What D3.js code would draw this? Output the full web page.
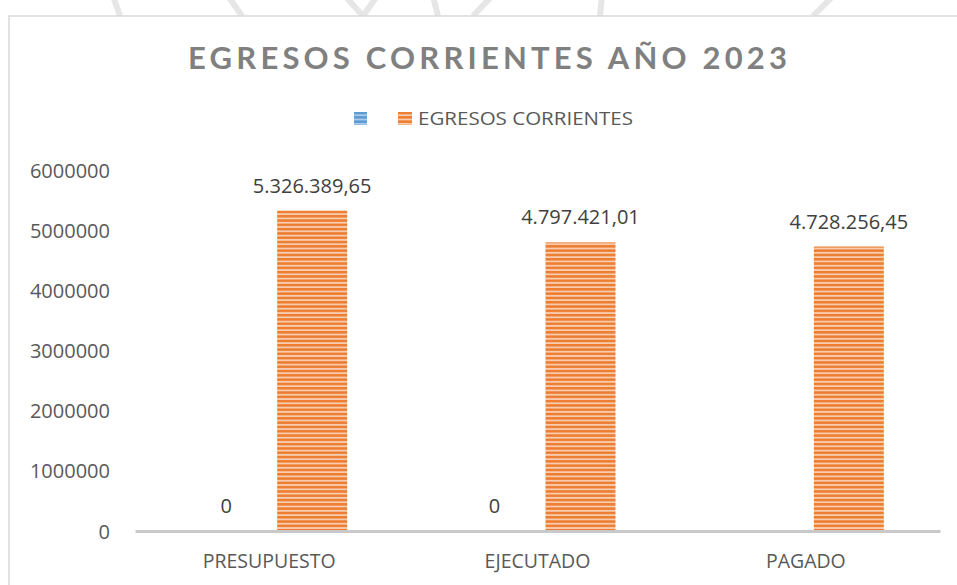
<!DOCTYPE html>
<html>
<head>
<meta charset="utf-8">
<script src="https://cdn.jsdelivr.net/npm/d3@7"></script>
<style>
  html, body { margin: 0; padding: 0; background: #fff; }
  svg { display: block; }
</style>
</head>
<body>
<svg id="chart" width="957" height="585"></svg>
<script>
// ---- data ----
const categories = ["PRESUPUESTO", "EJECUTADO", "PAGADO"];
const seriesNames = ["", "EGRESOS CORRIENTES"];
const seriesBlue = [0, 0, null];
const seriesOrange = [5326389.65, 4797421.01, 4728256.45];
const yTicks = [0, 1000000, 2000000, 3000000, 4000000, 5000000, 6000000];
const titleText = "EGRESOS CORRIENTES AÑO 2023";

const svg = d3.select("#chart");
const W = 957, H = 585;

// ---- patterns ----
const defs = svg.append("defs");
function stripe(id, dark, light) {
  const p = defs.append("pattern").attr("id", id).attr("patternUnits", "userSpaceOnUse")
    .attr("width", 8).attr("height", 4.3);
  p.append("rect").attr("width", 8).attr("height", 4.3).attr("fill", light);
  p.append("rect").attr("y", 0).attr("width", 8).attr("height", 2.5).attr("fill", dark);
}
stripe("pOrange", "#ED7D31", "#F8CCAE");
stripe("pBlue", "#5B9BD5", "#A9CBEA");

// ---- watermark strokes above chart box ----
const wm = [[113,0,120,16],[228,0,242,16],[345,0,363,16],[377,0,363,16],
            [433,0,438,16],[492,0,473,16],[602,0,600,16],[833,0,813,16]];
svg.selectAll("line.wm").data(wm).join("line").attr("class","wm")
  .attr("x1", d => d[0]).attr("y1", d => d[1] - 4).attr("x2", d => d[2]).attr("y2", d => d[3])
  .attr("stroke", "#e6e6e6").attr("stroke-width", 6);

// ---- chart box ----
svg.append("rect").attr("x", 9).attr("y", 16).attr("width", W).attr("height", H)
  .attr("fill", "#fff").attr("stroke", "#d9d9d9").attr("stroke-width", 1.5);

// ---- title ----
svg.append("text").attr("x", 188).attr("y", 69)
  .attr("textLength", 599).attr("lengthAdjust", "spacing")
  .style("font-family", "Lato, 'Open Sans', sans-serif").style("font-weight", "bold")
  .style("font-size", "31px").attr("fill", "#808080").text(titleText);

// ---- legend ----
svg.append("rect").attr("x", 354).attr("y", 112).attr("width", 13).attr("height", 13).attr("fill", "url(#pBlue)");
svg.append("rect").attr("x", 398).attr("y", 112).attr("width", 14).attr("height", 13).attr("fill", "url(#pOrange)");
svg.append("text").attr("x", 418).attr("y", 125)
  .attr("textLength", 215).attr("lengthAdjust", "spacingAndGlyphs")
  .style("font-family", "'Open Sans', sans-serif").style("font-size", "18px")
  .attr("fill", "#595959").text(seriesNames[1]);

// ---- scales ----
const x0 = d3.scaleBand().domain(categories).range([135, 940]).padding(0);
const x1 = d3.scaleBand().domain([0, 1])
  .range([x0.bandwidth() / 2 - 78, x0.bandwidth() / 2 + 78]).paddingInner(0.186).paddingOuter(0);
const y = d3.scaleLinear().domain([0, 6000000]).range([531, 170]);

// ---- y axis labels ----
const yAxis = d3.axisLeft(y).tickValues(yTicks).tickFormat(d3.format("d")).tickSize(0).tickPadding(0);
const gy = svg.append("g").attr("transform", "translate(110,0)").call(yAxis);
gy.select(".domain").remove();
gy.selectAll("text").style("font-family", "'Open Sans', sans-serif").style("font-size", "20px")
  .attr("fill", "#595959").attr("dy", "0.35em");

// ---- bars ----
const locale = d3.formatLocale({ decimal: ",", thousands: ".", grouping: [3], currency: ["", ""] });
const fmt = v => v === 0 ? "0" : locale.format(",.2f")(v);

const rows = [];
categories.forEach((c, i) => {
  rows.push({ cat: c, s: 0, v: seriesBlue[i] });
  rows.push({ cat: c, s: 1, v: seriesOrange[i] });
});
const valid = rows.filter(d => d.v !== null);

svg.selectAll("rect.bar").data(valid).join("rect").attr("class", "bar")
  .attr("x", d => x0(d.cat) + x1(d.s)).attr("width", x1.bandwidth())
  .attr("y", d => y(d.v)).attr("height", d => y(0) - y(d.v))
  .attr("fill", d => d.s === 0 ? "url(#pBlue)" : "url(#pOrange)");

svg.selectAll("text.lbl").data(valid).join("text").attr("class", "lbl")
  .attr("x", d => x0(d.cat) + x1(d.s) + x1.bandwidth() / 2)
  .attr("y", d => y(d.v) - 18).attr("text-anchor", "middle")
  .style("font-family", "'Open Sans', sans-serif").style("font-size", "20px")
  .attr("fill", "#404040").text(d => fmt(d.v));

// ---- x axis ----
const xAxis = d3.axisBottom(x0).tickSize(0).tickPadding(0);
const gx = svg.append("g").attr("transform", "translate(0,531)").call(xAxis);
gx.select(".domain").attr("stroke", "#c9c9c9").attr("stroke-width", 3);
gx.selectAll("text").attr("y", 37).attr("dy", 0)
  .style("font-family", "'Open Sans', sans-serif").style("font-size", "19.5px").attr("fill", "#595959");
</script>
</body>
</html>
